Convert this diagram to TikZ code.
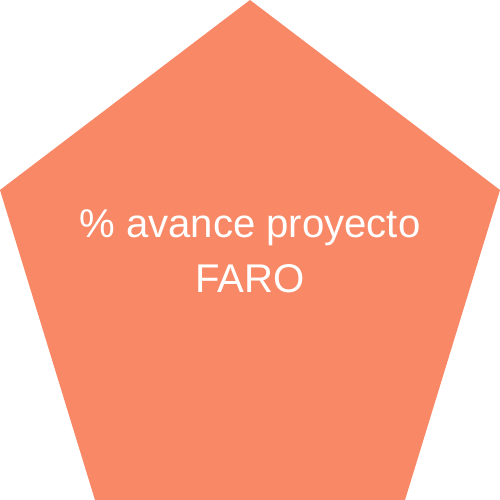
\documentclass[tikz,border=0pt]{standalone}
\usepackage{fontspec}
\setmainfont{Liberation Sans}
\usepackage{xcolor}
\definecolor{salmon}{RGB}{248,136,102}

\begin{document}
\begin{tikzpicture}[x=0.01cm, y=-0.01cm]
  \useasboundingbox (0,0) rectangle (500,500);
  \fill[salmon] (250,0) -- (500,190) -- (405,500) -- (95,500) -- (0,190) -- cycle;
  \node[text=white, align=center, font=\fontsize{11.4}{15.6}\selectfont, inner sep=0pt] (label) at (250,251) {\% avance proyecto\\FARO};
\end{tikzpicture}
\end{document}
